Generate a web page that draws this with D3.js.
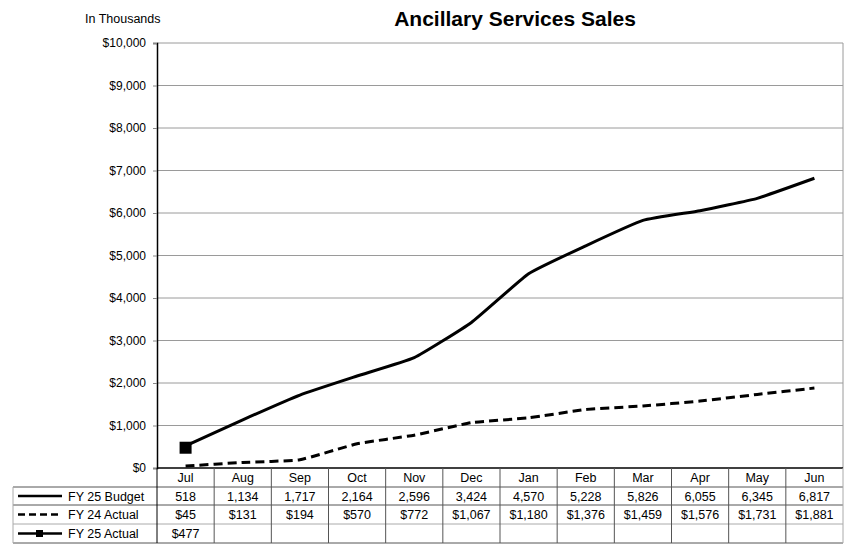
<!DOCTYPE html>
<html><head><meta charset="utf-8">
<script src="https://cdn.jsdelivr.net/npm/d3@7"></script>
<style>body{margin:0;background:#fff}svg{display:block;font-family:Arial,"Liberation Sans",sans-serif}</style>
</head><body><svg id="c" width="854" height="545"></svg>
<script>
const months = ["Jul","Aug","Sep","Oct","Nov","Dec","Jan","Feb","Mar","Apr","May","Jun"];
const budget = [518,1134,1717,2164,2596,3424,4570,5228,5826,6055,6345,6817];
const fy24 = [45,131,194,570,772,1067,1180,1376,1459,1576,1731,1881];
const fy25 = [477];
const yTicks = [0,1000,2000,3000,4000,5000,6000,7000,8000,9000,10000];
const seriesNames = ["FY 25 Budget","FY 24 Actual","FY 25 Actual"];

const svg = d3.select("#c");
const L=157,R=843,T=43,B=468;
const FS=12.5;
const x = d3.scaleBand().domain(months).range([L,R]);
const y = d3.scaleLinear().domain([0,10000]).range([B,T]);
const cx = m => x(m)+x.bandwidth()/2;

svg.append("text").attr("x",515).attr("y",26).attr("text-anchor","middle").attr("font-size",21).attr("font-weight","bold").text("Ancillary Services Sales");
svg.append("text").attr("x",85).attr("y",23).attr("text-anchor","start").attr("font-size",FS).text("In Thousands");

// grid
svg.append("g").selectAll("line").data(yTicks.filter(d=>d>0)).join("line")
  .attr("x1",L).attr("x2",R).attr("y1",d=>y(d)).attr("y2",d=>y(d)).attr("stroke","#9a9a9a").attr("stroke-width",1);
svg.append("line").attr("x1",R).attr("x2",R).attr("y1",T).attr("y2",B).attr("stroke","#9a9a9a");
const ya = svg.append("g").attr("transform",`translate(${L},0)`)
  .call(d3.axisLeft(y).tickValues(yTicks).tickSize(4).tickFormat(d=>"$"+d3.format(",")(d)));
ya.select(".domain").attr("stroke","#000").attr("stroke-width",1.5);
ya.selectAll(".tick line").attr("stroke","#888");
ya.selectAll(".tick text").attr("font-size",12).attr("font-family","Arial,'Liberation Sans',sans-serif").attr("x",-11).attr("fill","#000");

// lines
const line = d3.line().x((d,i)=>cx(months[i])).y(d=>y(d)).curve(d3.curveCardinal.tension(0.6));
svg.append("path").attr("d",line(budget)).attr("fill","none").attr("stroke","#000").attr("stroke-width",3);
svg.append("path").attr("d",line(fy24)).attr("fill","none").attr("stroke","#000").attr("stroke-width",3).attr("stroke-dasharray","9,5");
svg.append("path").attr("d",line(fy25)).attr("fill","none").attr("stroke","#000").attr("stroke-width",3);
svg.append("g").selectAll("rect").data(fy25).join("rect")
  .attr("x",(d,i)=>cx(months[i])-6).attr("y",d=>y(d)-6).attr("width",12).attr("height",12).attr("fill","#000");

// table
const TL=13, rowH=[468,487,505,524,543];
const tg = svg.append("g");
tg.append("line").attr("x1",L).attr("x2",R).attr("y1",B).attr("y2",B).attr("stroke","#000").attr("stroke-width",1.5);
rowH.slice(1).forEach((yy,i)=>{
  tg.append("line").attr("x1",TL).attr("x2",R).attr("y1",yy).attr("y2",yy).attr("stroke",i===2?"#aaa":"#555").attr("stroke-width",1);
});
tg.append("line").attr("x1",TL).attr("x2",TL).attr("y1",rowH[1]).attr("y2",rowH[4]).attr("stroke","#aaa");
months.forEach((m,i)=>{
  const xx = x(m);
  tg.append("line").attr("x1",xx).attr("x2",xx).attr("y1",B).attr("y2",rowH[4]).attr("stroke",i===0?"#000":"#555").attr("stroke-width",1);
});
tg.append("line").attr("x1",R).attr("x2",R).attr("y1",B).attr("y2",rowH[4]).attr("stroke","#aaa");

const rowMid = i => (rowH[i]+rowH[i+1])/2+4.5;
tg.selectAll("text.m").data(months).join("text").attr("class","m")
  .attr("x",d=>cx(d)).attr("y",rowMid(0)).attr("text-anchor","middle").attr("font-size",FS).text(d=>d);
const rows = [budget.map(d=>d3.format(",")(d)), fy24.map(d=>"$"+d3.format(",")(d)), fy25.map(d=>"$"+d3.format(",")(d))];
rows.forEach((r,ri)=>{
  tg.selectAll("text.r"+ri).data(r).join("text").attr("class","r"+ri)
    .attr("x",(d,i)=>cx(months[i])).attr("y",rowMid(ri+1)).attr("text-anchor","middle").attr("font-size",FS).text(d=>d);
  const ly = (rowH[ri+1]+rowH[ri+2])/2;
  tg.append("text").attr("x",68).attr("y",ly+4.5).attr("font-size",FS).text(seriesNames[ri]);
  const ln = tg.append("line").attr("x1",18).attr("x2",62).attr("y1",ly).attr("y2",ly).attr("stroke","#000").attr("stroke-width",2.5);
  if(ri===1) ln.attr("stroke-dasharray","7,4");
  if(ri===2) tg.append("rect").attr("x",36).attr("y",ly-3.5).attr("width",7).attr("height",7).attr("fill","#000");
});
</script></body></html>
